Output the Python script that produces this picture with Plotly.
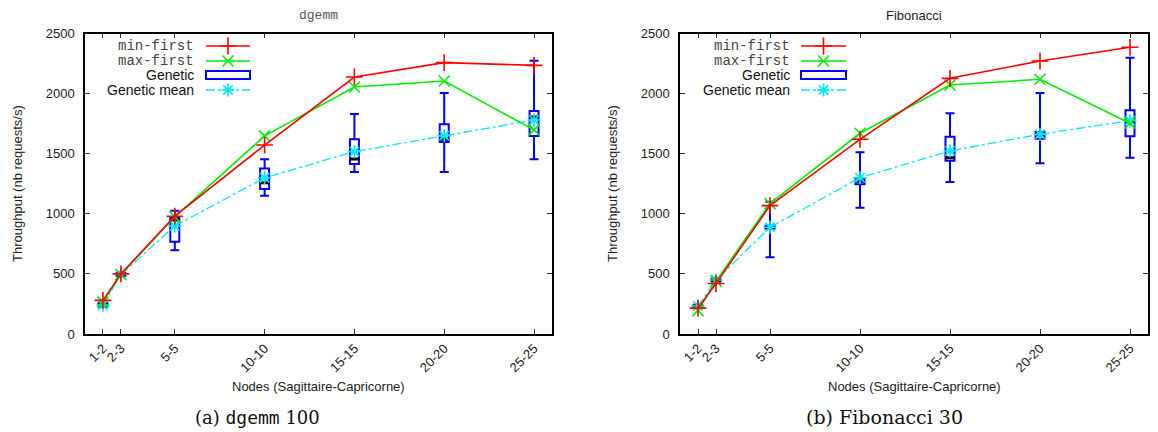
import plotly.graph_objects as go

# page body adds an 8px margin at top-left: the figure fills the rest of the 1158x432 window
OFF = 8
W, H = 1158 - OFF, 432 - OFF

# ---------------- data ----------------
nodes_x = [1, 2, 5, 10, 15, 20, 25]
node_labels = ["1-2", "2-3", "5-5", "10-10", "15-15", "20-20", "25-25"]
y_ticks = [0, 500, 1000, 1500, 2000, 2500]

# (a) dgemm 100
dg_min_first = [280, 500, 980, 1572, 2138, 2258, 2235]
dg_max_first = [265, 495, 975, 1648, 2055, 2105, 1698]
dg_gen_mean = [240, 495, 898, 1300, 1517, 1650, 1780]
dg_gen_lo = [225, 480, 696, 1151, 1348, 1348, 1453]
dg_gen_q1 = [232, 487, 768, 1206, 1414, 1597, 1647]
dg_gen_med = [245, 495, 948, 1259, 1455, 1620, 1805]
dg_gen_q3 = [255, 505, 965, 1376, 1620, 1745, 1855]
dg_gen_hi = [262, 512, 1026, 1453, 1830, 2005, 2274]

# (b) Fibonacci 30
fb_min_first = [215, 420, 1068, 1620, 2127, 2271, 2385]
fb_max_first = [195, 440, 1085, 1670, 2072, 2119, 1753]
fb_gen_mean = [233, 449, 888, 1300, 1523, 1662, 1775]
fb_gen_lo = [220, 430, 638, 1051, 1265, 1420, 1467]
fb_gen_q1 = [225, 440, 875, 1245, 1442, 1625, 1645]
fb_gen_med = [232, 447, 885, 1270, 1467, 1655, 1765]
fb_gen_q3 = [240, 455, 900, 1290, 1642, 1680, 1861]
fb_gen_hi = [245, 465, 1101, 1512, 1836, 2005, 2299]

series_names = ["min-first", "max-first", "Genetic", "Genetic mean"]

# ---------------- styles ----------------
RED = "#ff0000"
GREEN = "#00ee00"
BLUE = "#0000ff"
CYAN = "#00e8ff"
SANS = "Liberation Sans, Arial, sans-serif"
MONO = "Liberation Mono, Courier New, monospace"
SERIF = "DejaVu Serif, serif"

MK = {
    "min": dict(symbol="cross-thin-open", size=12, color=RED, line=dict(color=RED, width=1.6)),
    "max": dict(symbol="x-thin-open", size=11, color=GREEN, line=dict(color=GREEN, width=1.6)),
    "mean": dict(symbol="asterisk-open", size=11, color=CYAN, line=dict(color=CYAN, width=1.6)),
}

fig = go.Figure()

panels = [
    dict(xa="x", ya="y", mf=dg_min_first, xf=dg_max_first, mean=dg_gen_mean,
         lo=dg_gen_lo, q1=dg_gen_q1, med=dg_gen_med, q3=dg_gen_q3, hi=dg_gen_hi),
    dict(xa="x2", ya="y2", mf=fb_min_first, xf=fb_max_first, mean=fb_gen_mean,
         lo=fb_gen_lo, q1=fb_gen_q1, med=fb_gen_med, q3=fb_gen_q3, hi=fb_gen_hi),
]

for p in panels:
    fig.add_trace(go.Box(
        x=nodes_x, q1=p["q1"], median=p["med"], q3=p["q3"],
        lowerfence=p["lo"], upperfence=p["hi"],
        width=0.5, whiskerwidth=1, fillcolor="rgba(0,0,0,0)",
        line=dict(color=BLUE, width=2), boxpoints=False,
        xaxis=p["xa"], yaxis=p["ya"], showlegend=False, name=series_names[2]))
    fig.add_trace(go.Scatter(
        x=nodes_x, y=p["med"], mode="markers",
        marker=dict(symbol="line-ew", size=7, color="black", line=dict(color="black", width=3)),
        xaxis=p["xa"], yaxis=p["ya"], showlegend=False, hoverinfo="skip"))
    fig.add_trace(go.Scatter(
        x=nodes_x, y=p["mean"], mode="lines+markers", name=series_names[3],
        line=dict(color=CYAN, width=1.3, dash="dashdot"), marker=MK["mean"],
        xaxis=p["xa"], yaxis=p["ya"], showlegend=False))
    fig.add_trace(go.Scatter(
        x=nodes_x, y=p["xf"], mode="lines+markers", name=series_names[1],
        line=dict(color=GREEN, width=1.6), marker=MK["max"],
        xaxis=p["xa"], yaxis=p["ya"], showlegend=False))
    fig.add_trace(go.Scatter(
        x=nodes_x, y=p["mf"], mode="lines+markers", name=series_names[0],
        line=dict(color=RED, width=1.6), marker=MK["min"],
        xaxis=p["xa"], yaxis=p["ya"], showlegend=False))

# ---------------- axes (positions given in window pixels) ----------------
def px_x(v):
    return (v - OFF) / W

def px_y(v):
    return 1 - (v - OFF) / H

plot_top, plot_bot = 33.5, 334
left_dom = [px_x(85), px_x(552)]
right_dom = [px_x(680), px_x(1148)]
ydom = [px_y(plot_bot), px_y(plot_top)]

xcommon = dict(range=[0, 26], tickmode="array", tickvals=nodes_x, ticktext=node_labels,
               tickangle=-45, ticks="inside", ticklen=5, tickcolor="#333",
               showline=True, linecolor="black", linewidth=1.5, mirror="ticks",
               showgrid=False, zeroline=False, automargin=False,
               tickfont=dict(family=SANS, size=13, color="#222"))
ycommon = dict(range=[0, 2500], tickmode="array", tickvals=y_ticks,
               ticks="inside", ticklen=5, tickcolor="#333",
               showline=True, linecolor="black", linewidth=1.5, mirror="ticks",
               showgrid=False, zeroline=False, ticklabelstandoff=6, automargin=False,
               tickfont=dict(family=SANS, size=13, color="#222"))

fig.update_layout(
    xaxis=dict(domain=left_dom, anchor="y", **xcommon),
    yaxis=dict(domain=ydom, anchor="x", **ycommon),
    xaxis2=dict(domain=right_dom, anchor="y2", **xcommon),
    yaxis2=dict(domain=ydom, anchor="x2", **ycommon),
    xaxis3=dict(domain=[0, 1], range=[OFF, OFF + W], visible=False, anchor="y3", fixedrange=True),
    yaxis3=dict(domain=[0, 1], range=[OFF + H, OFF], visible=False, anchor="x3", fixedrange=True),
)

# ---------------- manual gnuplot-style legends ----------------
shapes = []
annotations = []
leg_rows = [46, 61, 75, 90]
leg_fonts = [MONO, MONO, SANS, SANS]
leg_colors = ["#444", "#444", "#111", "#111"]

for text_right, s0, s1 in [(196, 206, 250), (792, 801, 846)]:
    mid = (s0 + s1) / 2
    for i, name in enumerate(series_names):
        annotations.append(dict(
            text=name, x=px_x(text_right), y=px_y(leg_rows[i]), xref="paper", yref="paper",
            xanchor="right", yanchor="middle", showarrow=False,
            font=dict(family=leg_fonts[i], size=14, color=leg_colors[i])))
    shapes.append(dict(type="line", xref="paper", yref="paper",
                       x0=px_x(s0), x1=px_x(s1), y0=px_y(leg_rows[0]), y1=px_y(leg_rows[0]),
                       line=dict(color=RED, width=1.6)))
    shapes.append(dict(type="line", xref="paper", yref="paper",
                       x0=px_x(s0), x1=px_x(s1), y0=px_y(leg_rows[1]), y1=px_y(leg_rows[1]),
                       line=dict(color=GREEN, width=1.6)))
    shapes.append(dict(type="rect", xref="paper", yref="paper",
                       x0=px_x(s0), x1=px_x(s1), y0=px_y(leg_rows[2] - 4), y1=px_y(leg_rows[2] + 4),
                       line=dict(color=BLUE, width=2)))
    shapes.append(dict(type="line", xref="paper", yref="paper",
                       x0=px_x(s0), x1=px_x(s1), y0=px_y(leg_rows[3]), y1=px_y(leg_rows[3]),
                       line=dict(color=CYAN, width=1.3, dash="dashdot")))
    for row, key in [(0, "min"), (1, "max"), (3, "mean")]:
        fig.add_trace(go.Scatter(
            x=[mid], y=[leg_rows[row]], mode="markers", xaxis="x3", yaxis="y3",
            showlegend=False, marker=MK[key], hoverinfo="skip"))

# ---------------- titles & captions ----------------
def ann(text, x, y, family, size, color="#111", angle=0):
    annotations.append(dict(text=text, x=px_x(x), y=px_y(y), xref="paper", yref="paper",
                            xanchor="center", yanchor="middle", showarrow=False, textangle=angle,
                            font=dict(family=family, size=size, color=color)))

ann("dgemm", 318, 16, MONO, 13, "#555")
ann("Fibonacci", 914, 16, SANS, 13, "#222")
ann("Throughput (nb requests/s)", 17, 184, SANS, 13, "#222", -90)
ann("Throughput (nb requests/s)", 612, 184, SANS, 13, "#222", -90)
ann("Nodes (Sagittaire-Capricorne)", 318, 386, SANS, 13, "#222")
ann("Nodes (Sagittaire-Capricorne)", 914, 386, SANS, 13, "#222")
ann('(a) <span style="font-family:DejaVu Sans Mono, monospace">dgemm</span> 100',
    257, 417, SERIF, 18, "#111")
ann("(b) Fibonacci 30", 884, 417, SERIF, 19, "#111")

fig.update_layout(
    width=W, height=H, autosize=False,
    margin=dict(l=0, r=0, t=0, b=0, pad=0, autoexpand=False),
    paper_bgcolor="white", plot_bgcolor="rgba(0,0,0,0)",
    shapes=shapes, annotations=annotations,
    showlegend=False,
)

fig.write_html("out.html")
